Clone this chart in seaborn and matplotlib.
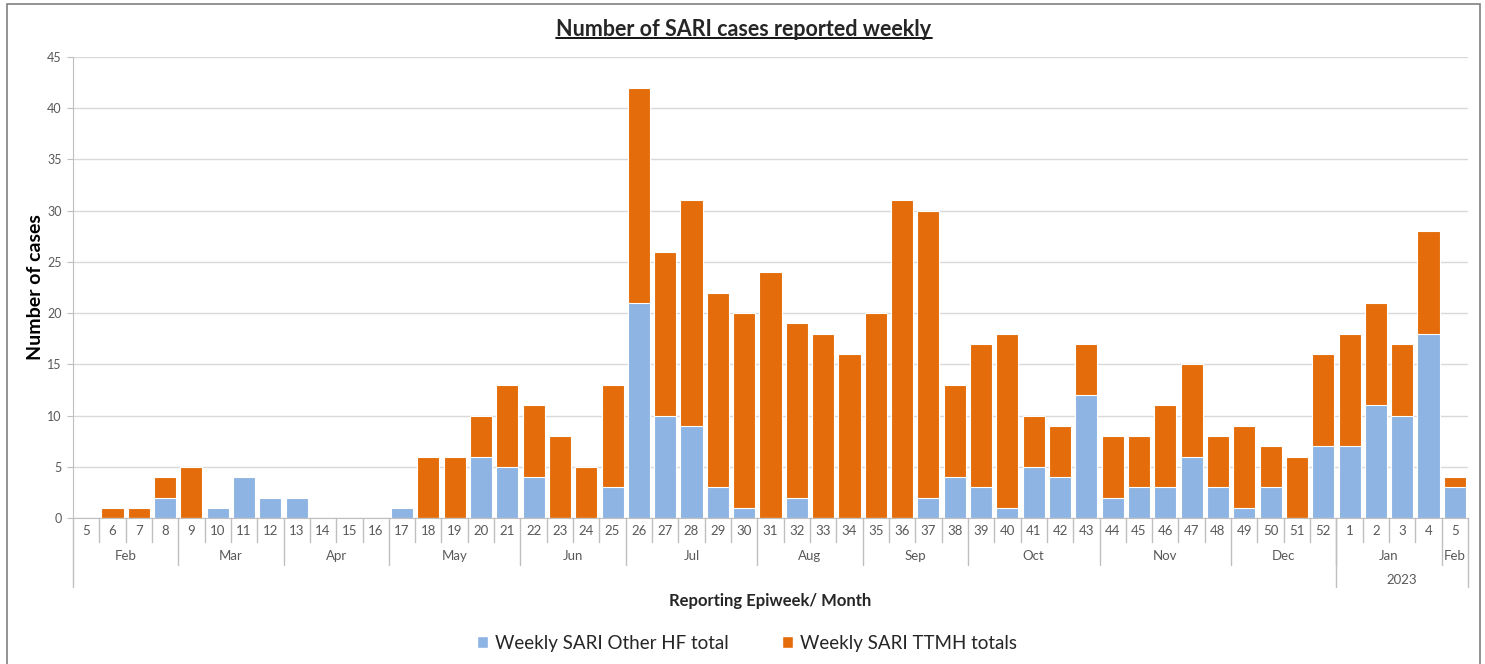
import numpy as np
import pandas as pd
import matplotlib
matplotlib.use("Agg")
import matplotlib.pyplot as plt
import matplotlib.transforms as mtransforms
from matplotlib.patches import Patch, Rectangle
import seaborn as sns

# epiweeks Feb 2022 .. Feb 2023
weeks = list(range(5, 53)) + [1, 2, 3, 4, 5]
years = [2022] * 48 + [2023] * 5
months = (["Feb"] * 4 + ["Mar"] * 4 + ["Apr"] * 4 + ["May"] * 5 + ["Jun"] * 4
          + ["Jul"] * 5 + ["Aug"] * 4 + ["Sep"] * 4 + ["Oct"] * 5 + ["Nov"] * 5
          + ["Dec"] * 4 + ["Jan"] * 4 + ["Feb"])
year_labels = {2022: "", 2023: "2023"}

other_hf = [0, 0, 0, 2, 0, 1, 4, 2, 2, 0, 0, 0, 1, 0, 0, 6, 5, 4, 0, 0, 3,
            21, 10, 9, 3, 1, 0, 2, 0, 0, 0, 0, 2, 4, 3, 1, 5, 4, 12,
            2, 3, 3, 6, 3, 1, 3, 0, 7, 7, 11, 10, 18, 3]
ttmh = [0, 1, 1, 2, 5, 0, 0, 0, 0, 0, 0, 0, 0, 6, 6, 4, 8, 7, 8, 5, 10,
        21, 16, 22, 19, 19, 24, 17, 18, 16, 20, 31, 28, 9, 14, 17, 5, 5, 5,
        6, 5, 8, 9, 5, 8, 4, 6, 9, 11, 10, 7, 10, 1]

BLUE = "#8DB4E2"
ORANGE = "#E46C0A"
GRID = "#D9D9D9"
AXC = "#BFBFBF"
TXT = "#595959"

df = pd.DataFrame({"week": weeks, "year": years, "month": months,
                   "other": other_hf, "ttmh": ttmh})
df["slot"] = [f"{y}-{w:02d}" for y, w in zip(df.year, df.week)]
df["total"] = df["other"] + df["ttmh"]
slots = list(df["slot"])
n = len(slots)

sns.set_style("white")
plt.rcParams["font.family"] = ["Lato", "DejaVu Sans"]

fig = plt.figure(figsize=(14.85, 6.64), dpi=100)
ax = fig.add_axes([73 / 1485, 1 - 518 / 664, 1395 / 1485, 461 / 664])

# stacked look: totals in orange, Other HF drawn over them
sns.barplot(data=df, x="slot", y="total", order=slots, color=ORANGE,
            saturation=1, width=0.84, edgecolor="white", linewidth=0.8, ax=ax)
sns.barplot(data=df, x="slot", y="other", order=slots, color=BLUE,
            saturation=1, width=0.84, edgecolor="white", linewidth=0.8, ax=ax)

ax.set_xlim(-0.5, n - 0.5)
ax.set_ylim(0, 45)
ax.set_yticks(range(0, 46, 5))
ax.yaxis.grid(True, color=GRID, linewidth=1)
ax.set_axisbelow(True)
ax.tick_params(axis="y", labelsize=9, colors=TXT, length=4, color=AXC,
               direction="out", left=True, pad=4)
for s in ["top", "right"]:
    ax.spines[s].set_visible(False)
ax.spines["left"].set_color(AXC)
ax.spines["bottom"].set_color(AXC)

ax.set_xticks(range(n))
ax.set_xticklabels([])
ax.tick_params(axis="x", length=0)
ax.set_xlabel("")
ax.set_ylabel("Number of cases", fontsize=14, fontweight="bold", color="black")
ax.yaxis.set_label_coords(-0.021, 0.5)

# multi level category axis
tr = mtransforms.blended_transform_factory(ax.transData, ax.transAxes)
y_week, y_month, y_year = -0.052, -0.102, -0.150
for i, w in enumerate(weeks):
    ax.text(i, -0.028, str(w), transform=tr, ha="center", va="center",
            fontsize=9.5, color=TXT)
for i in range(1, n):
    ax.plot([i - 0.5, i - 0.5], [0, y_week], transform=tr, color=AXC,
            lw=1, clip_on=False)

def runs(labels):
    out, start = [], 0
    for i in range(1, len(labels) + 1):
        if i == len(labels) or labels[i] != labels[start]:
            out.append((start, i - 1, labels[start]))
            start = i
    return out

month_keys = [f"{y}-{m}" for y, m in zip(years, months)]
for a, b, key in runs(month_keys):
    ax.text((a + b) / 2, -0.082, key.split("-")[1], transform=tr,
            ha="center", va="center", fontsize=9.5, color=TXT)
    if a > 0:
        ax.plot([a - 0.5, a - 0.5], [y_week, y_month], transform=tr,
                color=AXC, lw=1, clip_on=False)
for a, b, y in runs(years):
    if year_labels[y]:
        ax.text((a + b) / 2, -0.134, year_labels[y], transform=tr,
                ha="center", va="center", fontsize=9.5, color=TXT)
    if a > 0:
        ax.plot([a - 0.5, a - 0.5], [0, y_year], transform=tr,
                color=AXC, lw=1, clip_on=False)
ax.plot([-0.5, -0.5], [0, y_year], transform=tr, color=AXC, lw=1, clip_on=False)
ax.plot([n - 0.5, n - 0.5], [0, y_year], transform=tr, color=AXC, lw=1,
        clip_on=False)

fig.text(770 / 1485, 1 - 601 / 664, "Reporting Epiweek/ Month", ha="center",
         va="center", fontsize=12, fontweight="bold")
title = fig.text(744 / 1485, 1 - 29 / 664, "Number of SARI cases reported weekly",
                 ha="center", va="center", fontsize=15.5, fontweight="bold")
fig.canvas.draw()
bb = title.get_window_extent().transformed(fig.transFigure.inverted())
fig.add_artist(plt.Line2D([bb.x0, bb.x1], [bb.y0 + 0.002, bb.y0 + 0.002],
                          transform=fig.transFigure, color="black", lw=1.3))

handles = [Patch(facecolor=BLUE, label="Weekly SARI Other HF total"),
           Patch(facecolor=ORANGE, label="Weekly SARI TTMH totals")]
fig.legend(handles=handles, loc="center", bbox_to_anchor=(747 / 1485, 1 - 643 / 664),
           ncol=2, frameon=False, fontsize=13.5, handlelength=0.6,
           handleheight=0.6, handletextpad=0.4, columnspacing=2.8)

fig.add_artist(Rectangle((7 / 1485, -0.01), 1473 / 1485, 1 - 4 / 664 + 0.01,
                         transform=fig.transFigure, fill=False,
                         edgecolor="#808080", lw=1.2))

fig.savefig("out.png", dpi=100)
